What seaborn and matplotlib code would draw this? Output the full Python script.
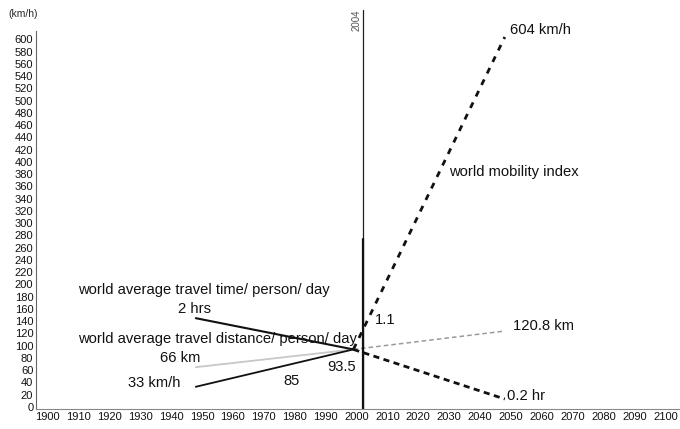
import numpy as np
import pandas as pd
import seaborn as sns
import matplotlib.pyplot as plt

# values (plotted index positions)
hist_years = [1948, 1999]
proj_years = [1999, 2048]
speed_hist = [33, 94]          # 33 km/h -> 93.5
mobility_proj = [94, 604]      # world mobility index -> 604 km/h
time_hist = [145, 94]          # 2 hrs
time_proj = [94, 13]           # -> 0.2 hr
dist_hist = [65, 94]           # 66 km
dist_proj = [94, 124]          # -> 120.8 km
marker_year = 2002
x_ticks = list(range(1900, 2101, 10))
y_ticks = list(range(0, 601, 20))

sns.set_theme(style="white")
plt.rcParams['font.family'] = ['Liberation Sans', 'DejaVu Sans']

fig = plt.figure(figsize=(6.8, 4.29), dpi=100)
ax = fig.add_axes([0.053, 0.047, 0.947, 0.881])


def frame(xs, ys):
    return pd.DataFrame({'year': xs, 'value': ys})


sns.lineplot(data=frame(hist_years, dist_hist), x='year', y='value',
             ax=ax, color='#c8c8c8', linewidth=1.3)
sns.lineplot(data=frame(proj_years, dist_proj), x='year', y='value',
             ax=ax, color='#9a9a9a', linewidth=1.1, linestyle=(0, (3, 2)))
sns.lineplot(data=frame(hist_years, speed_hist), x='year', y='value',
             ax=ax, color='#111111', linewidth=1.3)
sns.lineplot(data=frame(hist_years, time_hist), x='year', y='value',
             ax=ax, color='#111111', linewidth=1.5)
sns.lineplot(data=frame(proj_years, time_proj), x='year', y='value',
             ax=ax, color='#111111', linewidth=2.0, linestyle=(0, (2.2, 1.6)))
sns.lineplot(data=frame(proj_years, mobility_proj), x='year', y='value',
             ax=ax, color='#111111', linewidth=2.0, linestyle=(0, (2.2, 2.4)))

# 2004 reference line
ax.axvline(marker_year, ymin=0, ymax=1.055, color='#222222', linewidth=0.9, clip_on=False)
ax.axvline(marker_year, ymin=0, ymax=0.45, color='#111111', linewidth=1.6)
ax.text(marker_year - 2.0, 1.0, '2004', transform=ax.get_xaxis_transform(),
        rotation=90, fontsize=7, color='#555555', ha='center', va='bottom')

ax.set_xlim(1896.3, 2104.7)
ax.set_ylim(-3, 614)
ax.set_xticks(x_ticks)
ax.set_xticklabels([str(t) for t in x_ticks], fontsize=8, color='#111111')
ax.set_yticks(y_ticks)
ax.set_yticklabels([str(t) for t in y_ticks], fontsize=8, color='#111111')
ax.set_yticks(list(range(100, 601, 100)), minor=True)
ax.tick_params(axis='both', which='major', length=0, pad=2)
ax.tick_params(axis='y', which='minor', length=4, direction='inout', color='#555555')
ax.set_xlabel('')
ax.set_ylabel('')
for side in ['top', 'right']:
    ax.spines[side].set_visible(False)
ax.spines['left'].set_color('#666666')
ax.spines['bottom'].set_color('#888888')
ax.spines['left'].set_linewidth(0.8)
ax.spines['bottom'].set_linewidth(0.8)

fig.text(8 / 680, 1 - 14 / 429, '(km/h)', fontsize=7.5, va='center', ha='left')

labels = [
    (2049.7, 616, '604 km/h'),
    (2029.9, 384, 'world mobility index'),
    (1909.9, 191, 'world average travel time/ person/ day'),
    (1942.2, 160, '2 hrs'),
    (1909.9, 111, 'world average travel distance/ person/ day'),
    (1936.4, 80, '66 km'),
    (1926.0, 39, '33 km/h'),
    (1976.2, 42, '85'),
    (1990.4, 65, '93.5'),
    (2006.0, 142, '1.1'),
    (2050.6, 132, '120.8 km'),
    (2048.7, 18, '0.2 hr'),
]
for x, y, s in labels:
    ax.text(x, y, s, fontsize=10.6, ha='left', va='center', color='#111111')

fig.savefig('out.png', dpi=100)
